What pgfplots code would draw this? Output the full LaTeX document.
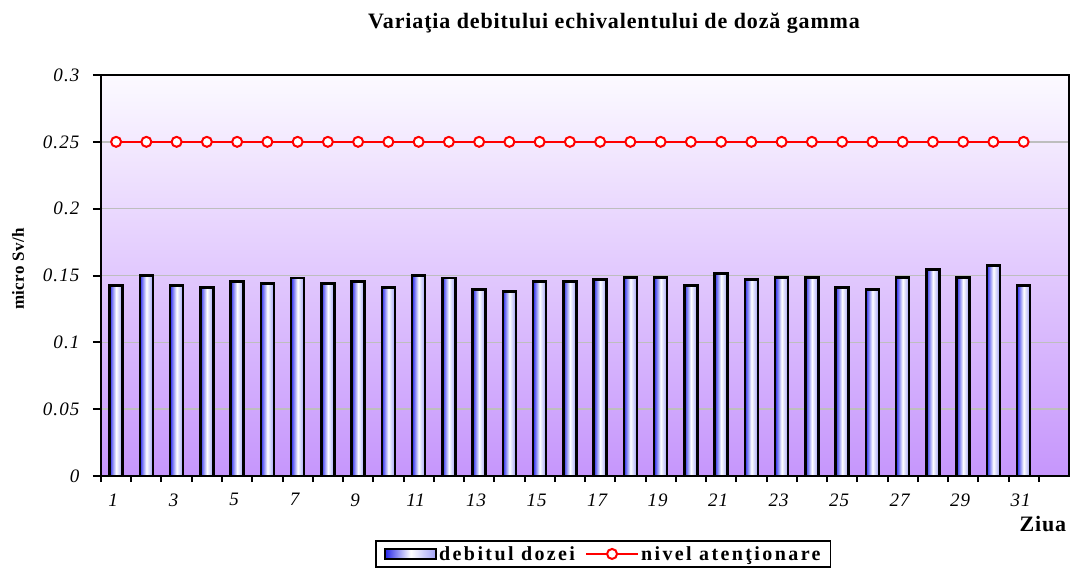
\documentclass[border=0pt]{standalone}
\usepackage{pgfplots}
\pgfplotsset{compat=1.18}
\usepackage{fontspec}
\setmainfont{Liberation Serif}
\definecolor{bgtop}{RGB}{252,250,255}
\definecolor{bgbot}{RGB}{198,150,252}
\definecolor{barL}{RGB}{40,40,235}
\definecolor{barR}{RGB}{160,160,245}
\definecolor{gridc}{RGB}{190,190,190}
\definecolor{attred}{RGB}{255,0,0}
\pgfplotsset{dbar/.style={ybar, bar width=13pt, draw=black, line width=2.5pt, left color=barL, right color=barR, middle color=white, forget plot}}
\begin{document}
\begin{tikzpicture}
\useasboundingbox (-101pt,-95pt) rectangle (970pt,476pt);
\begin{axis}[
  at={(0,0)}, anchor=south west,
  scale only axis, width=968pt, height=401pt,
  xmin=0.5, xmax=32.5, ymin=0, ymax=0.3,
  xtick pos=bottom, ytick pos=left,
  axis line style={line width=2pt, black},
  axis background/.style={top color=bgtop, bottom color=bgbot},
  ytick={0,0.05,0.1,0.15,0.2,0.25,0.3},
  yticklabels={0,0.05,0.1,0.15,0.2,0.25,0.3},
  ymajorgrids, grid style={gridc, line width=1.6pt},
  xtick={1,3,5,7,9,11,13,15,17,19,21,23,25,27,29,31},
  xticklabels={1,3,5,7,9,11,13,15,17,19,21,23,25,27,29,31},
  major x tick style={draw=none},
  minor xtick={0.5,1.5,...,31.5},
  minor x tick style={black, line width=2pt},
  major y tick style={black, line width=2pt},
  tick align=outside,
  major tick length=8pt, minor tick length=6pt,
  ticklabel style={font=\fontsize{19}{21}\selectfont\itshape\addfontfeatures{LetterSpace=6}},
  xticklabel style={yshift=-6pt, xshift=-3pt},
  yticklabel style={xshift=-10pt},
  ylabel={micro Sv/h},
  ylabel style={at={(axis description cs:-0.0857,0.516)}, anchor=center, font=\fontsize{17}{19}\selectfont\bfseries\addfontfeatures{LetterSpace=2}},
  xlabel={Ziua},
  xlabel style={at={(axis description cs:0.973,-0.1197)}, anchor=center, font=\fontsize{22}{24}\selectfont\bfseries\addfontfeatures{LetterSpace=4}},
  title={Varia\c{t}ia debitului echivalentului de doz\u{a} gamma},
  title style={at={(axis description cs:0.53,1)}, anchor=base, yshift=41pt, font=\fontsize{22}{24}\selectfont\bfseries\addfontfeatures{LetterSpace=4}},
  legend style={at={(axis description cs:0.519,0)}, anchor=north, yshift=-64pt, draw=black, line width=1.5pt, fill=white,
    font=\fontsize{20}{22}\selectfont\bfseries\addfontfeatures{LetterSpace=12}, legend columns=2,
    inner xsep=8pt, inner ysep=3.5pt,
    /tikz/every even column/.append style={column sep=8pt}},
  clip=false,
]
\addlegendimage{legend image code/.code={\draw[line width=2pt, left color=barL, right color=barR, middle color=white] (0pt,-5pt) rectangle (51pt,5pt);}}
\addlegendentry{debitul dozei}
\addlegendimage{legend image code/.code={\draw[draw=attred, line width=2pt] (0pt,0pt) -- (52pt,0pt); \draw[draw=attred, line width=2pt, fill=white] (26pt,0pt) circle (5pt);}}
\addlegendentry{nivel aten\c{t}ionare}
\addplot[dbar] coordinates {(1,0.1425)};
\addplot[dbar] coordinates {(2,0.150)};
\addplot[dbar] coordinates {(3,0.1425)};
\addplot[dbar] coordinates {(4,0.141)};
\addplot[dbar] coordinates {(5,0.1455)};
\addplot[dbar] coordinates {(6,0.144)};
\addplot[dbar] coordinates {(7,0.148)};
\addplot[dbar] coordinates {(8,0.144)};
\addplot[dbar] coordinates {(9,0.1455)};
\addplot[dbar] coordinates {(10,0.141)};
\addplot[dbar] coordinates {(11,0.150)};
\addplot[dbar] coordinates {(12,0.148)};
\addplot[dbar] coordinates {(13,0.1395)};
\addplot[dbar] coordinates {(14,0.138)};
\addplot[dbar] coordinates {(15,0.1455)};
\addplot[dbar] coordinates {(16,0.1455)};
\addplot[dbar] coordinates {(17,0.147)};
\addplot[dbar] coordinates {(18,0.1485)};
\addplot[dbar] coordinates {(19,0.1485)};
\addplot[dbar] coordinates {(20,0.1425)};
\addplot[dbar] coordinates {(21,0.1515)};
\addplot[dbar] coordinates {(22,0.147)};
\addplot[dbar] coordinates {(23,0.1485)};
\addplot[dbar] coordinates {(24,0.1485)};
\addplot[dbar] coordinates {(25,0.141)};
\addplot[dbar] coordinates {(26,0.1395)};
\addplot[dbar] coordinates {(27,0.1485)};
\addplot[dbar] coordinates {(28,0.1545)};
\addplot[dbar] coordinates {(29,0.1485)};
\addplot[dbar] coordinates {(30,0.1575)};
\addplot[dbar] coordinates {(31,0.1425)};
\addplot[draw=attred, line width=2pt, mark=*, mark size=5pt, mark options={fill=white, draw=attred, line width=2pt}, forget plot]
coordinates {
(1,0.25) (2,0.25) (3,0.25) (4,0.25) (5,0.25) (6,0.25) (7,0.25) (8,0.25) (9,0.25) (10,0.25)
(11,0.25) (12,0.25) (13,0.25) (14,0.25) (15,0.25) (16,0.25) (17,0.25) (18,0.25) (19,0.25) (20,0.25)
(21,0.25) (22,0.25) (23,0.25) (24,0.25) (25,0.25) (26,0.25) (27,0.25) (28,0.25) (29,0.25) (30,0.25)
(31,0.25)};
\end{axis}
\end{tikzpicture}
\end{document}
